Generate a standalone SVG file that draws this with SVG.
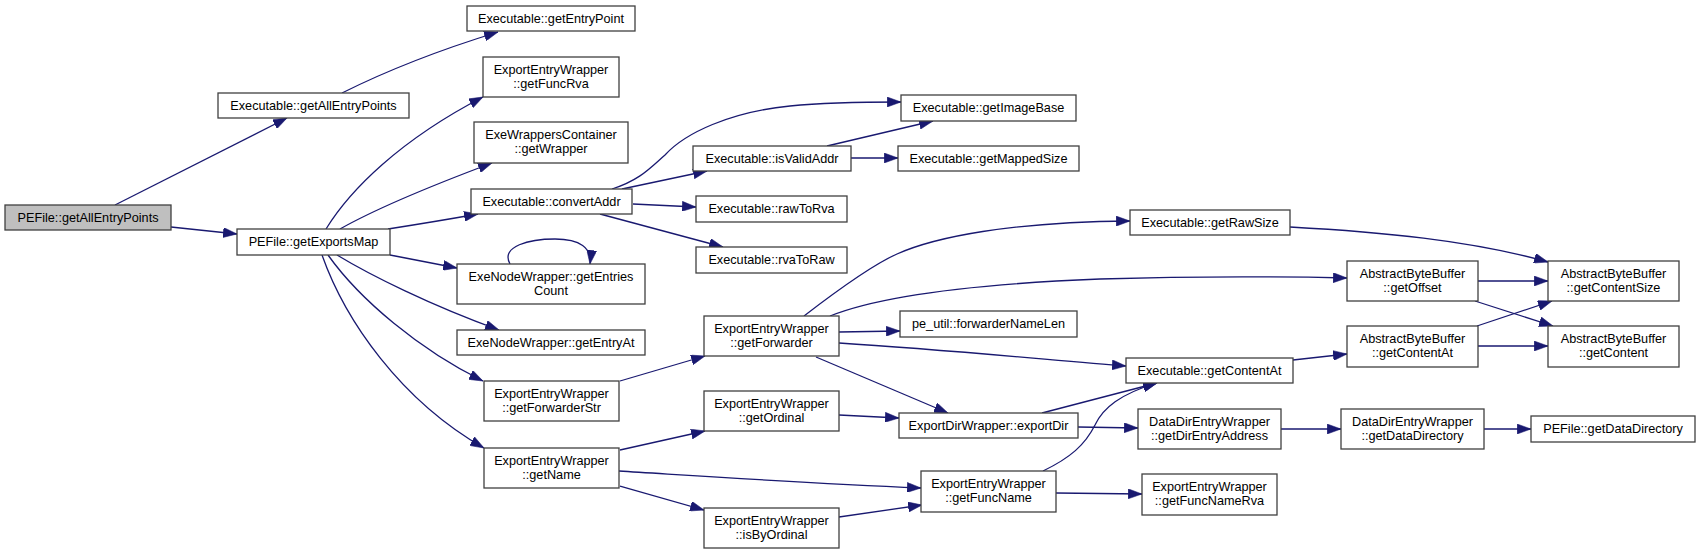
<svg xmlns="http://www.w3.org/2000/svg" width="1700" height="554" viewBox="0 0 1700 554">
<style>
.n rect{fill:#ffffff;stroke:#404040;stroke-width:1.3}
.n.root rect{fill:#bfbfbf}
.n text{font-family:"Liberation Sans",Arial,sans-serif;font-size:12.7px;fill:#000;text-anchor:middle}
.e path{fill:none;stroke:#191970;stroke-width:1.3;marker-end:url(#ah)}
</style>
<defs>
<marker id="ah" markerUnits="userSpaceOnUse" markerWidth="14" markerHeight="10" viewBox="0 0 13 9.4" refX="13" refY="4.7" orient="auto">
<path d="M0,0 L13,4.7 L0,9.4 z" fill="#191970" stroke="#191970" stroke-width="0.5"/>
</marker>
</defs>
<rect width="1700" height="554" fill="#ffffff"/>
<g id="edges" class="e">
<path d="M115,205 L287,118"/>
<path d="M171,227 L237,234"/>
<path d="M342,93 C370,79 420,56 498,32"/>
<path d="M326,229 C350,190 400,140 483,97"/>
<path d="M340,229 C370,212 420,190 492,163"/>
<path d="M388,229 C420,224 450,219 478,214"/>
<path d="M390,255 L457,268"/>
<path d="M337,255 C370,275 430,305 499,330"/>
<path d="M328,255 C360,300 420,350 483,381"/>
<path d="M322,255 C345,320 400,400 484,448"/>
<path d="M612,189 C640,180 650,168 665,155 C685,133 730,112 790,106 C830,102 870,102 901,102"/>
<path d="M622,189 L707,171"/>
<path d="M633,204 L696,207"/>
<path d="M600,214 L723,247"/>
<path d="M827,146 L933,121"/>
<path d="M851,158 L898,158"/>
<path d="M510,264 C500,246 530,239 555,239 C580,239 592,248 590,264"/>
<path d="M620,381 L705,356"/>
<path d="M620,450 L705,431"/>
<path d="M619,471 C700,476 800,483 921,488"/>
<path d="M620,486 L704,510"/>
<path d="M839,517 L922,505"/>
<path d="M839,415 L899,418"/>
<path d="M816,357 L948,413"/>
<path d="M839,332 L900,331"/>
<path d="M839,343 C950,350 1050,360 1126,366"/>
<path d="M804,316 C830,296 870,266 897,254 C935,237 1010,222 1130,221"/>
<path d="M830,316 C870,300 950,285 1100,279 C1200,276 1300,277 1347,278"/>
<path d="M1042,413 L1157,383"/>
<path d="M1078,427 L1138,428"/>
<path d="M1043,471 C1070,458 1085,445 1095,425 C1103,408 1120,394 1157,383"/>
<path d="M1056,493 L1142,494"/>
<path d="M1290,227 C1380,232 1470,240 1548,262"/>
<path d="M1478,281 L1548,281"/>
<path d="M1475,301 L1553,326"/>
<path d="M1477,326 L1552,301"/>
<path d="M1478,346 L1548,346"/>
<path d="M1293,360 L1347,354"/>
<path d="M1281,429 L1341,429"/>
<path d="M1484,429 L1531,429"/>
</g>
<g id="n0" class="n root"><rect x="5" y="205" width="166" height="25"/><text x="88" y="222">PEFile::getAllEntryPoints</text></g>
<g id="n1" class="n"><rect x="218" y="93" width="191" height="25"/><text x="313.5" y="110">Executable::getAllEntryPoints</text></g>
<g id="n2" class="n"><rect x="237" y="229" width="153" height="26"/><text x="313.5" y="246">PEFile::getExportsMap</text></g>
<g id="n3" class="n"><rect x="467" y="6" width="168" height="25"/><text x="551" y="23">Executable::getEntryPoint</text></g>
<g id="n4" class="n"><rect x="483" y="57" width="136" height="40"/><text x="551" y="74">ExportEntryWrapper</text><text x="551" y="88">::getFuncRva</text></g>
<g id="n5" class="n"><rect x="474" y="122" width="154" height="41"/><text x="551" y="139">ExeWrappersContainer</text><text x="551" y="153">::getWrapper</text></g>
<g id="n6" class="n"><rect x="471" y="189" width="161" height="25"/><text x="551.5" y="206">Executable::convertAddr</text></g>
<g id="n7" class="n"><rect x="457" y="264" width="188" height="40"/><text x="551" y="281">ExeNodeWrapper::getEntries</text><text x="551" y="295">Count</text></g>
<g id="n8" class="n"><rect x="457" y="330" width="188" height="25"/><text x="551" y="347">ExeNodeWrapper::getEntryAt</text></g>
<g id="n9" class="n"><rect x="484" y="381" width="135" height="40"/><text x="551.5" y="398">ExportEntryWrapper</text><text x="551.5" y="412">::getForwarderStr</text></g>
<g id="n10" class="n"><rect x="484" y="448" width="135" height="40"/><text x="551.5" y="465">ExportEntryWrapper</text><text x="551.5" y="479">::getName</text></g>
<g id="n11" class="n"><rect x="693" y="146" width="158" height="25"/><text x="772" y="163">Executable::isValidAddr</text></g>
<g id="n12" class="n"><rect x="696" y="196" width="151" height="26"/><text x="771.5" y="213">Executable::rawToRva</text></g>
<g id="n13" class="n"><rect x="696" y="247" width="151" height="26"/><text x="771.5" y="264">Executable::rvaToRaw</text></g>
<g id="n14" class="n"><rect x="704" y="316" width="135" height="40"/><text x="771.5" y="333">ExportEntryWrapper</text><text x="771.5" y="347">::getForwarder</text></g>
<g id="n15" class="n"><rect x="704" y="391" width="135" height="40"/><text x="771.5" y="408">ExportEntryWrapper</text><text x="771.5" y="422">::getOrdinal</text></g>
<g id="n16" class="n"><rect x="704" y="508" width="135" height="40"/><text x="771.5" y="525">ExportEntryWrapper</text><text x="771.5" y="539">::isByOrdinal</text></g>
<g id="n17" class="n"><rect x="901" y="95" width="175" height="26"/><text x="988.5" y="112">Executable::getImageBase</text></g>
<g id="n18" class="n"><rect x="898" y="146" width="181" height="25"/><text x="988.5" y="163">Executable::getMappedSize</text></g>
<g id="n19" class="n"><rect x="1130" y="210" width="160" height="25"/><text x="1210" y="227">Executable::getRawSize</text></g>
<g id="n20" class="n"><rect x="900" y="311" width="177" height="26"/><text x="988.5" y="328">pe_util::forwarderNameLen</text></g>
<g id="n21" class="n"><rect x="1126" y="358" width="167" height="25"/><text x="1209.5" y="375">Executable::getContentAt</text></g>
<g id="n22" class="n"><rect x="899" y="413" width="179" height="25"/><text x="988.5" y="430">ExportDirWrapper::exportDir</text></g>
<g id="n23" class="n"><rect x="1138" y="409" width="143" height="40"/><text x="1209.5" y="426">DataDirEntryWrapper</text><text x="1209.5" y="440">::getDirEntryAddress</text></g>
<g id="n24" class="n"><rect x="921" y="471" width="135" height="41"/><text x="988.5" y="488">ExportEntryWrapper</text><text x="988.5" y="502">::getFuncName</text></g>
<g id="n25" class="n"><rect x="1142" y="474" width="135" height="41"/><text x="1209.5" y="491">ExportEntryWrapper</text><text x="1209.5" y="505">::getFuncNameRva</text></g>
<g id="n26" class="n"><rect x="1347" y="261" width="131" height="40"/><text x="1412.5" y="278">AbstractByteBuffer</text><text x="1412.5" y="292">::getOffset</text></g>
<g id="n27" class="n"><rect x="1548" y="261" width="131" height="40"/><text x="1613.5" y="278">AbstractByteBuffer</text><text x="1613.5" y="292">::getContentSize</text></g>
<g id="n28" class="n"><rect x="1347" y="326" width="131" height="41"/><text x="1412.5" y="343">AbstractByteBuffer</text><text x="1412.5" y="357">::getContentAt</text></g>
<g id="n29" class="n"><rect x="1548" y="326" width="131" height="41"/><text x="1613.5" y="343">AbstractByteBuffer</text><text x="1613.5" y="357">::getContent</text></g>
<g id="n30" class="n"><rect x="1341" y="409" width="143" height="40"/><text x="1412.5" y="426">DataDirEntryWrapper</text><text x="1412.5" y="440">::getDataDirectory</text></g>
<g id="n31" class="n"><rect x="1531" y="416" width="164" height="26"/><text x="1613" y="433">PEFile::getDataDirectory</text></g>
</svg>
